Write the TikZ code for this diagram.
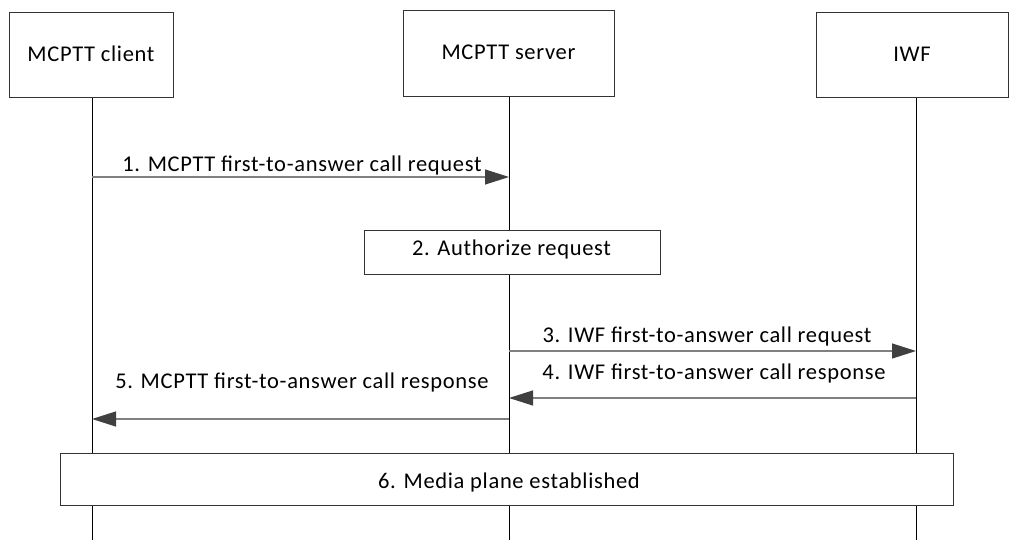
\documentclass[tikz,border=0pt]{standalone}
\usepackage{fontspec}
\setmainfont[LetterSpace=3]{Carlito}
\usetikzlibrary{arrows.meta}
\definecolor{linegray}{HTML}{808080}
\definecolor{headgray}{HTML}{404040}
\begin{document}
\begin{tikzpicture}[x=1pt,y=-1pt,
  entity/.style={draw=black!80,line width=0.9pt,fill=white,inner sep=0pt},
  stepbox/.style={draw=black!80,line width=0.9pt,fill=white,inner sep=0pt},
  life/.style={draw=black,line width=0.8pt},
  msg/.style={draw=linegray,line width=1.2pt,-{Triangle[length=24pt,width=15pt,fill=headgray,color=headgray]}},
  lbl/.style={font=\fontsize{22.5}{26}\selectfont,inner sep=0pt,anchor=base}]
\useasboundingbox (0,0) rectangle (1018,540);
% lifelines
\coordinate (c0) at (92,97); \coordinate (c1) at (92,540);
\coordinate (s0) at (509,96); \coordinate (s1) at (509,540);
\coordinate (w0) at (916,97); \coordinate (w1) at (916,540);
\draw[life] (c0) -- (c1);
\draw[life] (s0) -- (s1);
\draw[life] (w0) -- (w1);
% entity boxes
\node[entity,minimum width=164pt,minimum height=85pt] (client) at (91,54.5) {};
\node[lbl] (tclient) at (91,62) {MCPTT client};
\node[entity,minimum width=211pt,minimum height=86pt] (server) at (508.5,53) {};
\node[lbl] (tserver) at (508.5,60) {MCPTT server};
\node[entity,minimum width=192pt,minimum height=85pt] (iwf) at (912,54.5) {};
\node[lbl] (tiwf) at (912,62) {IWF};
% message 1
\coordinate (m1a) at (92,177); \coordinate (m1b) at (509,177);
\draw[msg] (m1a) -- (m1b);
\node[lbl] (l1) at (302,172) {1. MCPTT first-to-answer call request};
% step 2
\node[stepbox,minimum width=296pt,minimum height=44pt] (auth) at (512,252) {};
\node[lbl] (tauth) at (511.5,256) {2. Authorize request};
% message 3
\coordinate (m3a) at (509,351); \coordinate (m3b) at (916,351);
\draw[msg] (m3a) -- (m3b);
\node[lbl] (l3) at (707,342) {3. IWF first-to-answer call request};
% message 4
\coordinate (m4a) at (916,398); \coordinate (m4b) at (509,398);
\draw[msg] (m4a) -- (m4b);
\node[lbl] (l4) at (714,379) {4. IWF first-to-answer call response};
% message 5
\coordinate (m5a) at (509,419); \coordinate (m5b) at (92,419);
\draw[msg] (m5a) -- (m5b);
\node[lbl] (l5) at (302,388) {5. MCPTT first-to-answer call response};
% step 6
\node[stepbox,minimum width=893pt,minimum height=52pt] (media) at (506.5,479) {};
\node[lbl] (tmedia) at (509,488) {6. Media plane established};
\end{tikzpicture}
\end{document}
